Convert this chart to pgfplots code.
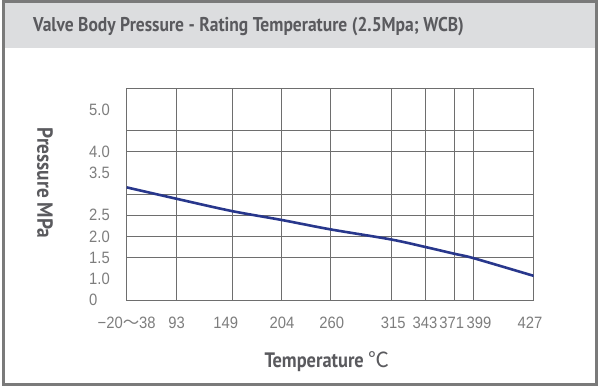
\documentclass[border=0pt]{standalone}
\usepackage{pgfplots}
\pgfplotsset{compat=1.18}
\usepackage{fontspec}
\setmainfont{Liberation Sans}
\newfontfamily\condbold{PT Sans}[FakeStretch=0.88]
\newfontfamily\tickfont{Liberation Sans}[FakeStretch=0.9]
\newfontfamily\cjk{Noto Sans CJK SC}
\definecolor{framegray}{RGB}{122,122,122}
\definecolor{titlebg}{RGB}{220,221,223}
\definecolor{titletext}{RGB}{90,90,94}
\definecolor{ticktext}{RGB}{125,125,125}
\definecolor{gridgray}{RGB}{110,110,110}
\definecolor{curveblue}{RGB}{40,55,140}
\begin{document}
\begin{tikzpicture}[x=1bp,y=1bp]
\begin{axis}[
  scale only axis, width=407bp, height=211.7bp,
  xmin=0, xmax=407, ymin=0.5, ymax=5.5,
  axis line style={gridgray, line width=0.8bp},
  xtick={0,50,99,155.3,205,266.6,298.3,325,352.3,403.3},
  xticklabels={{−20{\cjk ～}38},93,149,204,260,315,343,371,399,427},
  ytick={0.5,1,1.5,2,2.5,3.5,4,5},
  yticklabels={0,1.0,1.5,2.0,2.5,3.5,4.0,5.0},
  extra x ticks={50,105.3,155,203.3,264.3,299,328,346.6},
  extra x tick labels={},
  extra y ticks={1.5,2,2.5,3,4,4.5},
  extra y tick labels={},
  extra tick style={grid=major, major grid style={gridgray, line width=0.7bp}},
  major tick length=0pt,
  tick label style={font=\tickfont\fontsize{16.5}{19}\selectfont, text=ticktext},
  xticklabel style={anchor=center, inner sep=0pt, yshift=-22.7bp},
  yticklabel style={anchor=west, inner sep=0pt, xshift=-37.7bp},
  xlabel={Temperature {\cjk\mdseries ℃}},
  xlabel style={at={(axis description cs:0.492,-0.291)}, anchor=center, inner sep=0pt, font=\condbold\bfseries\fontsize{21}{25}\selectfont, text=titletext},
  ylabel={Pressure MPa},
  ylabel style={at={(axis description cs:-0.2007,0.553)}, anchor=center, rotate=180, inner sep=0pt, font=\condbold\bfseries\fontsize{22}{26}\selectfont, text=titletext},
]
\addplot[curveblue, line width=2.6bp, smooth] coordinates {
  (0,3.16) (50,2.89) (105.3,2.60) (155,2.39) (203.3,2.17)
  (264.3,1.93) (299,1.75) (328,1.59) (346.6,1.49) (407,1.07)
};
\coordinate (O) at (rel axis cs:0,0);
\end{axis}
\pgfresetboundingbox
\begin{scope}[shift={(O)}, shift={(-126.7,-87)}]
\useasboundingbox (0,0) rectangle (599,387);
\fill[titlebg] (3,339) rectangle (596,386);
\draw[framegray, line width=3bp] (3.5,3) rectangle (596.5,385.5);
\node[anchor=west, text=titletext, font=\condbold\bfseries\fontsize{20}{24}\selectfont, inner sep=0pt] at (33,360) {Valve Body Pressure - Rating Temperature (2.5Mpa; WCB)};
\end{scope}
\end{tikzpicture}
\end{document}
